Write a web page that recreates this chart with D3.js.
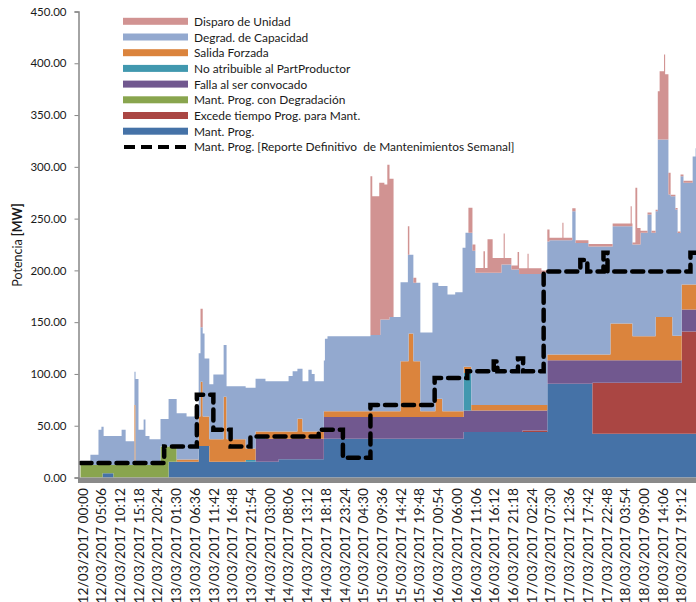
<!DOCTYPE html>
<html>
<head>
<meta charset="utf-8">
<script src="https://cdn.jsdelivr.net/npm/d3@7"></script>
<style>
  body { margin: 0; background: #fff; }
  text { font-family: Lato, "Open Sans", sans-serif; fill: #1a1a1a; }
</style>
</head>
<body>
<div id="chart"></div>
<script>
// Tick labels of the category axis (every 5h06)
const tickLabels = ["12/03/2017 00:00","12/03/2017 05:06","12/03/2017 10:12","12/03/2017 15:18","12/03/2017 20:24",
  "13/03/2017 01:30","13/03/2017 06:36","13/03/2017 11:42","13/03/2017 16:48","13/03/2017 21:54",
  "14/03/2017 03:00","14/03/2017 08:06","14/03/2017 13:12","14/03/2017 18:18","14/03/2017 23:24",
  "15/03/2017 04:30","15/03/2017 09:36","15/03/2017 14:42","15/03/2017 19:48","16/03/2017 00:54",
  "16/03/2017 06:00","16/03/2017 11:06","16/03/2017 16:12","16/03/2017 21:18","17/03/2017 02:24",
  "17/03/2017 07:30","17/03/2017 12:36","17/03/2017 17:42","17/03/2017 22:48","18/03/2017 03:54",
  "18/03/2017 09:00","18/03/2017 14:06","18/03/2017 19:12"];
const yTicks = [0, 50, 100, 150, 200, 250, 300, 350, 400, 450];

// Each series: [hours since 12/03 00:00, MW] - value holds until the next step
const mantProg = [[0,0],[6,4],[9,0],[24,15.3],[32.2,30.4],[35.1,15.3],[54,17.6],[66.3,37.4],[104.4,44],[127.2,90.5],[139.5,42.2]];
const excede = [[0,0],[120.4,1.5],[127.2,0],[139.5,49.2],[163.8,98.8]];
const mantDeg = [[0,12],[6,8],[9,12],[21.8,30],[24,14.7],[26.2,0]];
const falla = [[0,0],[47.7,22.2],[54,19.9],[66.3,21],[104.4,20.7],[120.4,19.2],[127.2,22.8],[139.5,21.9],[163.8,21.2]];
const noAtrib = [[0,0],[45,1.5],[47.7,2],[50.4,0],[104.4,36.3],[106.5,0]];
const salida = [[0,0],[14.7,58],[15,0],[26.2,2],[32.2,28.6],[32.7,62],[33.3,28.6],[35.1,21.7],[39,62.7],[39.8,21.7],
  [45,11.2],[47.7,4.9],[50.4,6.9],[59.1,19.2],[60.5,6.9],[66.3,5.6],[87.2,53.9],[89.4,80.6],[90.7,53.9],[92.6,5.6],
  [96.7,17.6],[98.6,5.6],[104.4,5.9],[106.5,5.3],[127.2,5.5],[144.4,35.4],[150.4,23.1],[156.7,41.7],[161.3,23.7],[163.8,24.2]];
const degrad = [[0,0],[2.7,10],[4.9,34],[5.7,37],[6.3,28],[11.2,34],[12.3,23],[14.7,32],[15,83],[15.8,34],[17.2,44],
  [17.7,28],[18.8,25],[21.8,26.5],[24,45.8],[26.2,44.7],[28.9,41.7],[32.2,61],[32.7,52.6],[33.3,80],[33.8,56],[35.1,53],
  [36.2,62.5],[39,50],[39.8,51],[45,58.6],[47.7,50.9],[50.4,48.6],[56.7,53.6],[57.8,58.2],[59.1,48.3],[60.5,48.6],
  [62.1,59.6],[63,55.6],[63.8,48.6],[66.3,49],[66.6,70],[67.3,72.4],[79,73.7],[81.7,88.6],[84.2,91],[87.2,76.3],
  [89.2,102.7],[89.4,76],[90.7,75.7],[92.6,76],[95.9,124],[96.7,112],[97.5,109],[98.6,121],[100,112.7],[102.1,115],
  [104.1,157.8],[104.4,114.9],[104.9,129.4],[106.5,166.3],[106.8,149],[107.6,127.7],[114.7,135.7],[117.4,130.8],
  [119.5,126.5],[125.6,128],[127.2,109.2],[127.8,110.2],[134,138.2],[134.9,107.7],[138.4,104.2],[144.4,74.3],[145,94],
  [150.4,88.6],[152.6,99.9],[154.5,117.6],[155.6,99.9],[156.7,102],[157.3,171.3],[160.2,118.3],[160.8,116.6],
  [161.3,134.6],[162.1,121.8],[162.7,99],[163.5,154],[163.8,104.6],[164.3,98.2],[166.8,123.6],[167.6,131.6]];
const disparo = [[0,0],[32.7,18],[33.3,0],[79,153.3],[79.5,133.9],[81.4,146.9],[81.7,132],[82.8,130.4],[83.6,149.4],
  [84.2,133.4],[85.3,0],[89.2,27.7],[89.6,0],[90.7,5],[91.5,0],[105.7,24.1],[106.8,6],[107.6,4.5],[109.8,20.8],
  [110.2,4.5],[110.9,32.3],[112.3,14.3],[114.7,6.3],[115.3,30],[115.6,6.3],[117.4,4],[119.1,17],[119.5,5.5],
  [121.8,19.5],[122.1,5.5],[125.6,2],[127.2,11.5],[127.8,2.5],[131.3,17],[131.6,2.5],[134,3],[134.9,2.5],[138.4,2.5],
  [145,2.5],[149.9,19.3],[150.2,2.5],[150.4,2],[151.2,54.7],[151.7,16],[152.6,2],[156.7,1.5],[157.3,46.7],[157.8,66],
  [159,82.2],[159.3,63],[160.2,20.9],[160.8,1.5],[163.5,1.5],[164.3,2],[166.8,0]];
// Dashed line: Mant. Prog. [Reporte Definitivo de Mantenimientos Semanal]
const reporte = [[0,14],[22.8,30],[31.7,80],[36.2,46],[40.9,30],[46.3,39.5],[64.9,46],[71.5,19],[79,70],[96.5,96],
  [105.4,102.6],[112.6,112],[113.6,102.6],[119.2,115],[120.6,102.6],[126.2,199],[136.2,210],[138.1,199],[142.5,217],
  [143.6,199],[166.2,217]];

const seriesNames = ["Mant. Prog.", "Excede tiempo Prog. para Mant.", "Mant. Prog. con Degradación",
  "Falla al ser convocado", "No atribuible al PartProductor", "Salida Forzada", "Degrad. de Capacidad", "Disparo de Unidad"];
const seriesData = [mantProg, excede, mantDeg, falla, noAtrib, salida, degrad, disparo];
const colors = ["#4572A7", "#AA4643", "#89A54E", "#71588F", "#4198AF", "#DB843D", "#93A9CF", "#D19392"];
const endHour = 168;

const width = 696, height = 602;
const svg = d3.select("#chart").append("svg")
    .attr("width", width)
    .attr("height", height);

const x = d3.scaleLinear().domain([0, endHour]).range([80.5, 80.5 + endHour * 3.67]);
const y = d3.scaleLinear().domain([0, 450]).range([477.5, 11.5]);

// build one row per step time
function valueAt(steps, t) {
    let v = 0;
    steps.forEach(s => { if (s[0] <= t) v = s[1]; });
    return v;
}
const times = Array.from(new Set(seriesData.flat().map(s => s[0]).concat([endHour]))).sort((a, b) => a - b);
const rows = times.map(t => {
    const r = {t: t};
    seriesNames.forEach((n, i) => r[n] = valueAt(seriesData[i], t));
    return r;
});
const stacked = d3.stack().keys(seriesNames)(rows);

const area = d3.area()
    .x(d => x(d.data.t))
    .y0(d => y(d[0]))
    .y1(d => y(d[1]))
    .curve(d3.curveStepAfter);

svg.append("defs").append("clipPath").attr("id", "plot")
    .append("rect").attr("x", 79).attr("y", 0).attr("width", 620).attr("height", 478);

const layers = svg.append("g").attr("clip-path", "url(#plot)");
layers.selectAll("path.layer")
    .data(stacked)
    .enter().append("path")
    .attr("class", "layer")
    .attr("d", area)
    .attr("fill", (d, i) => colors[i]);

// dashed line
const line = d3.line()
    .x(d => x(d[0]))
    .y(d => y(d[1]))
    .curve(d3.curveStepAfter);
layers.append("path")
    .attr("d", line(reporte.concat([[endHour, reporte[reporte.length - 1][1]]])))
    .attr("fill", "none")
    .attr("stroke", "#000")
    .attr("stroke-width", 4.5)
    .attr("stroke-dasharray", "11,7")
    .attr("stroke-linecap", "round");

// y axis
const yAxis = svg.append("g")
    .attr("transform", "translate(78.5,0)")
    .call(d3.axisLeft(y).tickValues(yTicks).tickSize(4).tickPadding(8).tickFormat(d3.format(".2f")));
yAxis.select(".domain").attr("stroke", "#868686").attr("stroke-width", 1.5);
yAxis.selectAll(".tick line").attr("stroke", "#868686");
yAxis.selectAll("text").attr("font-size", 11.5).attr("font-family", "Lato").attr("fill", "#1a1a1a");

// bottom axis band
svg.append("rect")
    .attr("x", 78).attr("y", 477.5)
    .attr("width", width - 78).attr("height", 5.5)
    .attr("fill", "#8a8a8a");

// x tick labels (rotated)
function labelHour(s) {
    const day = +s.slice(0, 2), hh = +s.slice(11, 13), mm = +s.slice(14, 16);
    return (day - 12) * 24 + hh + mm / 60;
}
svg.append("g").selectAll("text")
    .data(tickLabels)
    .enter().append("text")
    .attr("transform", d => "translate(" + (x(labelHour(d)) + 1.5) + ",488) rotate(-90)")
    .attr("text-anchor", "end")
    .attr("dominant-baseline", "central")
    .attr("font-size", 13.8)
    .text(d => d);

// y axis title
const title = svg.append("text")
    .attr("transform", "translate(17,245) rotate(-90)")
    .attr("text-anchor", "middle")
    .attr("dominant-baseline", "central")
    .attr("font-size", 12.5);
title.append("tspan").text("Potencia ");
title.append("tspan").attr("font-weight", "bold").text("[MW]");

// legend
const legendItems = seriesNames.slice().reverse();
const legendColors = colors.slice().reverse();
const legend = svg.append("g");
legendItems.forEach((n, i) => {
    const cy = 21.3 + i * 15.7;
    legend.append("rect")
        .attr("x", 123).attr("y", cy - 3.5)
        .attr("width", 65).attr("height", 7)
        .attr("fill", legendColors[i]);
    legend.append("text")
        .attr("x", 194).attr("y", cy)
        .attr("dominant-baseline", "central")
        .attr("font-size", 11.9)
        .text(n);
});
const dy = 21.3 + 8 * 15.7;
legend.append("line")
    .attr("x1", 124).attr("x2", 188)
    .attr("y1", dy).attr("y2", dy)
    .attr("stroke", "#000").attr("stroke-width", 4)
    .attr("stroke-dasharray", "11,6");
legend.append("text")
    .attr("x", 194).attr("y", dy)
    .attr("dominant-baseline", "central")
    .attr("font-size", 11.9)
    .style("white-space", "pre")
    .text("Mant. Prog. [Reporte Definitivo  de Mantenimientos Semanal]");
</script>
</body>
</html>
